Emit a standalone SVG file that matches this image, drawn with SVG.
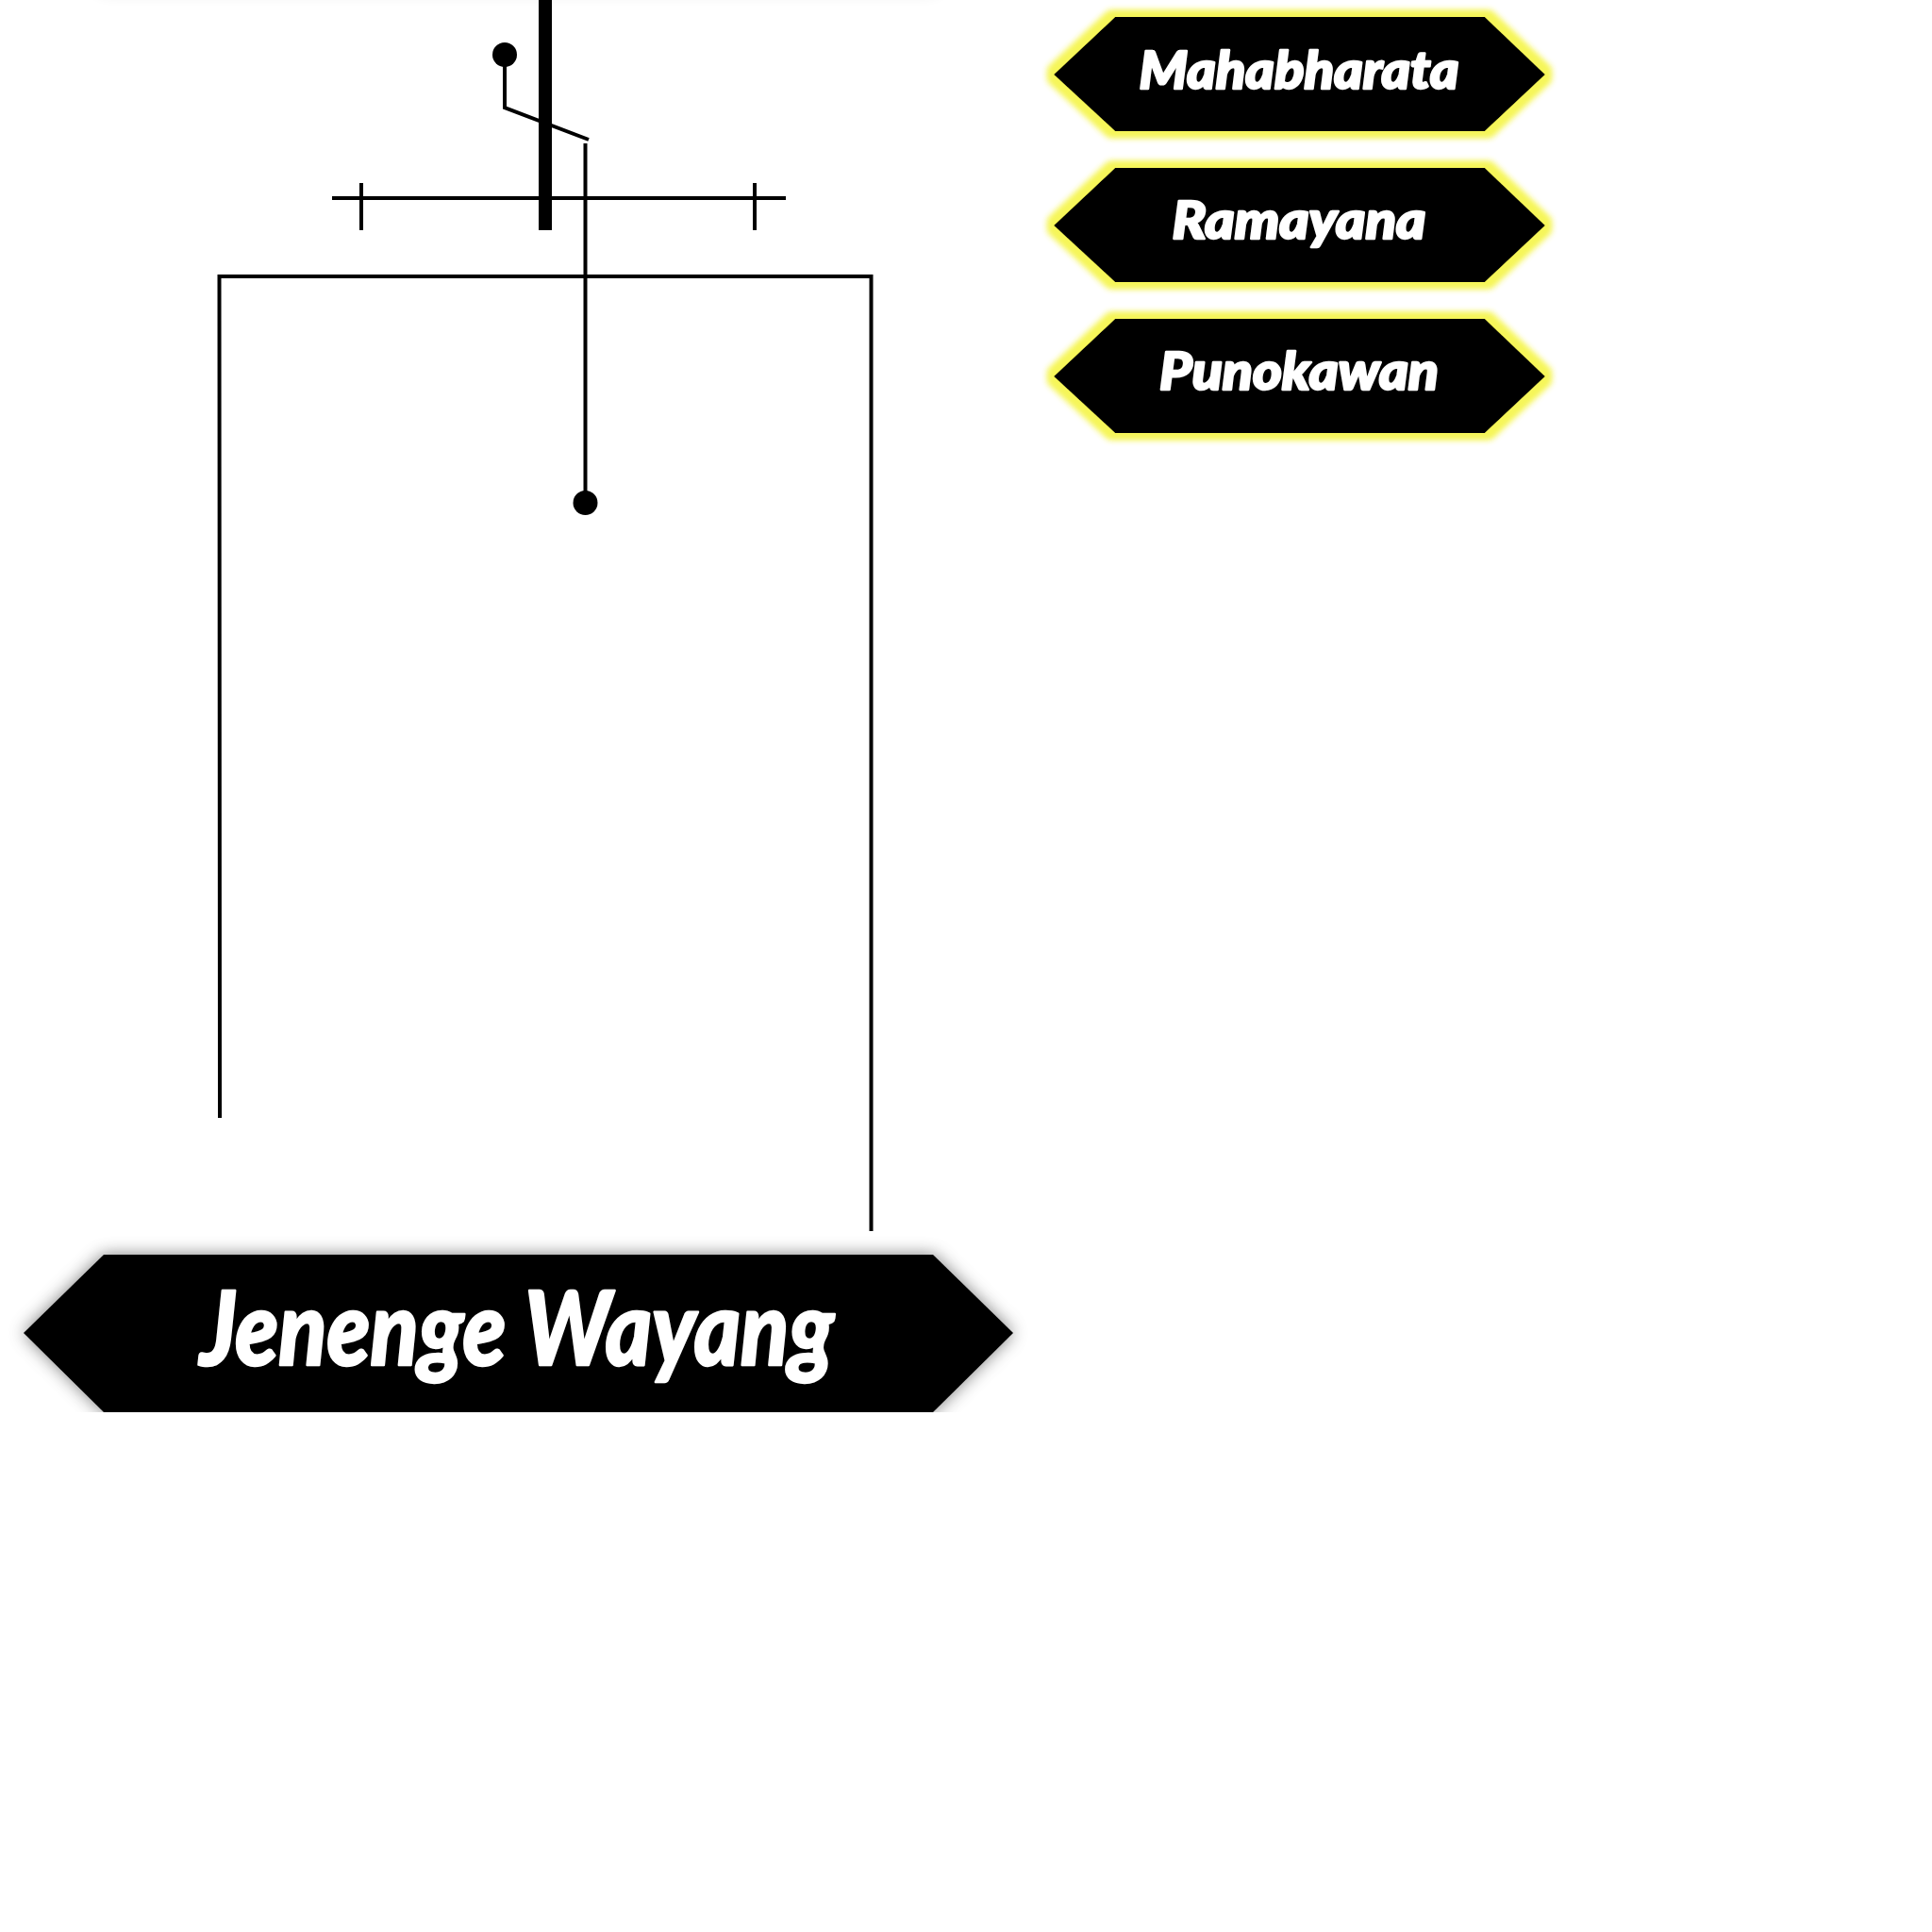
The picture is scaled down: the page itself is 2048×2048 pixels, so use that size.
<svg xmlns="http://www.w3.org/2000/svg" width="2048" height="2048" viewBox="0 0 2048 2048">
<style>
.ln{stroke:#000;stroke-width:4;fill:none}
.tag{fill:#000}
.tt{font-family:Lato,"Open Sans","Liberation Sans",sans-serif;font-weight:900;font-style:italic;fill:#fff;stroke:#fff;stroke-width:2.5;stroke-linejoin:round;text-anchor:middle}
</style>
<defs>
<filter id="glow" x="-20%" y="-30%" width="140%" height="160%">
<feMorphology in="SourceAlpha" operator="dilate" radius="6" result="d"/>
<feGaussianBlur in="d" stdDeviation="3.5" result="b"/>
<feFlood flood-color="#f6f65a"/>
<feComposite in2="b" operator="in" result="g"/>
<feMerge><feMergeNode in="g"/><feMergeNode in="g"/><feMergeNode in="SourceGraphic"/></feMerge>
</filter>
<filter id="shadow" x="-10%" y="-30%" width="120%" height="160%">
<feGaussianBlur in="SourceAlpha" stdDeviation="9" result="b"/>
<feFlood flood-color="#000" flood-opacity="0.5"/>
<feComposite in2="b" operator="in" result="s"/>
<feMerge><feMergeNode in="s"/><feMergeNode in="SourceGraphic"/></feMerge>
</filter>
<clipPath id="clipBottom"><rect x="0" y="1290" width="1200" height="207"/></clipPath>
</defs>
<rect width="2048" height="2048" fill="#fff"/>

<g id="offcanvas-top" filter="url(#shadow)" opacity="0.3">
<polygon points="110,-10 989,-10 1074,-90 989,-170 110,-170 25,-90" fill="#000"/>
</g>

<g id="connectors">
<line x1="578" y1="0" x2="578" y2="244" stroke="#000" stroke-width="14"/>
<polyline class="ln" points="535,58 535,114 624,148"/>
<circle cx="535" cy="58" r="13" fill="#000"/>
<line class="ln" x1="352" y1="210" x2="833" y2="210"/>
<line class="ln" x1="383" y1="194" x2="383" y2="244"/>
<line class="ln" x1="800" y1="194" x2="800" y2="244"/>
<line class="ln" x1="620.5" y1="152" x2="620.5" y2="533"/>
<circle cx="620.5" cy="533" r="13" fill="#000"/>
<polyline class="ln" points="233,1185 232.5,293 923.5,293 923.5,1305"/>
</g>

<g id="node-mahabharata" filter="url(#glow)">
<polygon class="tag" points="1182,18 1574,18 1638,79 1574,139 1182,139 1117,79"/>
<text class="tt" x="1377" y="94" font-size="56" textLength="339" lengthAdjust="spacingAndGlyphs">Mahabharata</text>
</g>
<g id="node-ramayana" filter="url(#glow)">
<polygon class="tag" points="1182,178 1574,178 1638,239 1574,299 1182,299 1117,239"/>
<text class="tt" x="1377" y="253" font-size="56" textLength="269" lengthAdjust="spacingAndGlyphs">Ramayana</text>
</g>
<g id="node-punokawan" filter="url(#glow)">
<polygon class="tag" points="1182,338 1574,338 1638,399 1574,459 1182,459 1117,399"/>
<text class="tt" x="1377" y="413" font-size="56" textLength="296" lengthAdjust="spacingAndGlyphs">Punokawan</text>
</g>

<g id="node-jenenge-wayang" clip-path="url(#clipBottom)">
<g filter="url(#shadow)">
<polygon class="tag" points="110,1330 989,1330 1074,1413 989,1497 110,1497 25,1413"/>
</g>
<text class="tt" x="548" y="1447" font-size="108" stroke-width="4" textLength="672" lengthAdjust="spacingAndGlyphs">Jenenge Wayang</text>
</g>
</svg>
